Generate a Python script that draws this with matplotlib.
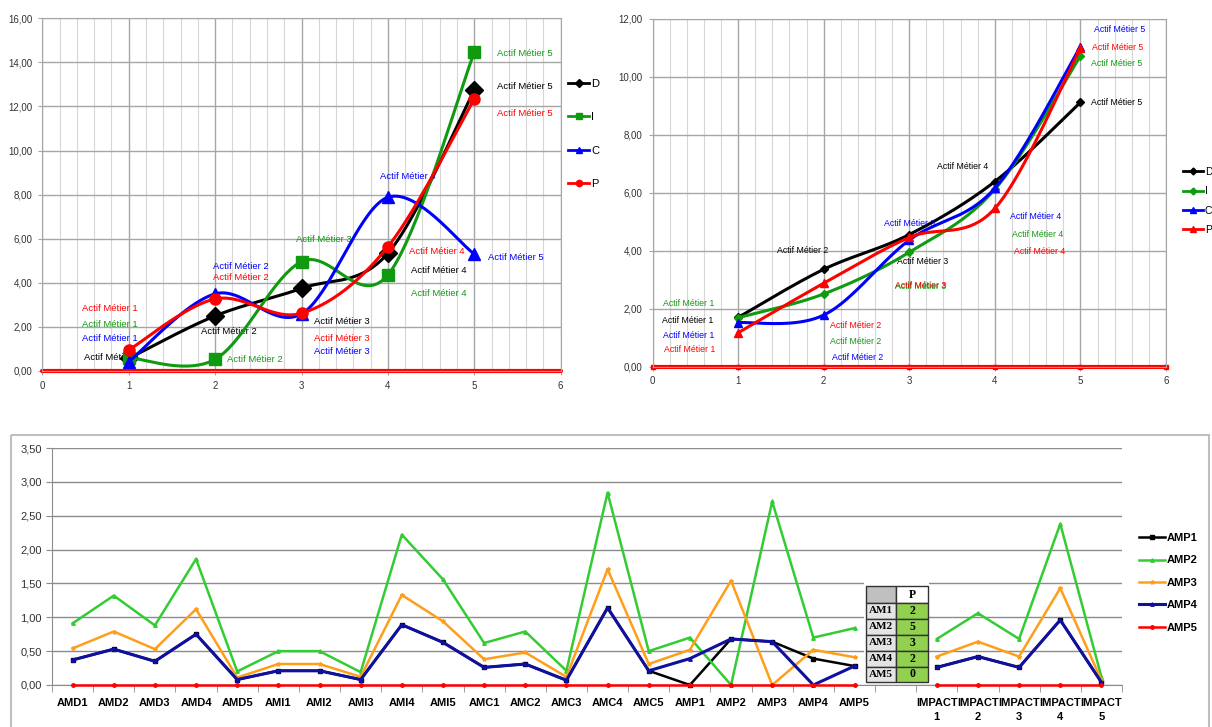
import numpy as np
import matplotlib
matplotlib.use("Agg")
import matplotlib.pyplot as plt
from matplotlib.lines import Line2D
from matplotlib.patches import Rectangle
from matplotlib.ticker import FuncFormatter
from matplotlib.transforms import Affine2D

plt.rcParams['font.family'] = ['Liberation Sans', 'DejaVu Sans']

W, H = 1212, 727

# --- data -------------------------------------------------------------------
steps = [1, 2, 3, 4, 5]
point_labels = ["Actif Métier 1", "Actif Métier 2", "Actif Métier 3",
                "Actif Métier 4", "Actif Métier 5"]

# left chart (D / I / C / P per business asset)
left_D = [0.57, 2.50, 3.75, 5.34, 12.75]
left_I = [0.60, 0.53, 4.96, 4.36, 14.46]
left_C = [0.42, 3.50, 2.59, 7.88, 5.31]
left_P = [0.95, 3.27, 2.62, 5.64, 12.34]

# right chart
right_D = [1.70, 3.36, 4.56, 6.39, 9.12]
right_I = [1.69, 2.51, 3.95, 6.12, 10.72]
right_C = [1.52, 1.78, 4.37, 6.16, 11.04]
right_P = [1.17, 2.88, 4.46, 5.46, 10.99]

# bottom chart
categories = ["AMD1", "AMD2", "AMD3", "AMD4", "AMD5",
              "AMI1", "AMI2", "AMI3", "AMI4", "AMI5",
              "AMC1", "AMC2", "AMC3", "AMC4", "AMC5",
              "AMP1", "AMP2", "AMP3", "AMP4", "AMP5",
              "IMPACT\n1", "IMPACT\n2", "IMPACT\n3", "IMPACT\n4", "IMPACT\n5"]
amp1 = [0.37, 0.53, 0.35, 0.75, 0.08, 0.21, 0.21, 0.08, 0.89, 0.63,
        0.26, 0.31, 0.07, 1.14, 0.21, 0.00, 0.68, 0.64, 0.39, 0.28,
        0.26, 0.42, 0.26, 0.96, 0.04]
amp2 = [0.91, 1.32, 0.88, 1.86, 0.20, 0.50, 0.50, 0.19, 2.22, 1.56,
        0.62, 0.79, 0.21, 2.84, 0.50, 0.70, 0.00, 2.71, 0.70, 0.84,
        0.68, 1.06, 0.68, 2.38, 0.12]
amp3 = [0.54, 0.79, 0.53, 1.12, 0.11, 0.31, 0.31, 0.12, 1.33, 0.94,
        0.38, 0.48, 0.12, 1.71, 0.31, 0.52, 1.54, 0.00, 0.52, 0.41,
        0.42, 0.64, 0.42, 1.43, 0.07]
amp4 = [0.37, 0.53, 0.35, 0.75, 0.08, 0.21, 0.21, 0.08, 0.89, 0.63,
        0.26, 0.31, 0.07, 1.14, 0.21, 0.39, 0.68, 0.64, 0.00, 0.28,
        0.26, 0.42, 0.26, 0.96, 0.04]
amp5 = [0.0] * 25

table_rows = ["AM1", "AM2", "AM3", "AM4", "AM5"]
table_P = [2, 5, 3, 2, 0]

# --- label placement (pixel offsets from each point, y up) -------------------
left_offsets = {
    "D": [(-17, 1), (14, -16), (40, -33), (51, -17), (51, 3)],
    "I": [(-19, 33), (40, 0), (22, 22), (51, -19), (51, -1)],
    "C": [(-19, 23), (26, 27), (40, -38), (20, 21), (42, -4)],
    "P": [(-19, 42), (26, 21), (40, -25), (49, -5), (51, -15)],
}
right_offsets = {
    "D": [(-50, -3), (-21, 19), (13, -27), (-32, 15), (36, 0)],
    "I": [(-49, 14), (32, -48), (11, -34), (43, -45), (36, -7)],
    "C": [(-49, -13), (34, -42), (0, 17), (41, -28), (39, 17)],
    "P": [(-48, -17), (32, -42), (11, -48), (45, -43), (37, 1)],
}

BLACK, GREEN, BLUE, RED = "#000000", "#109A10", "#0000FF", "#FF0000"


def px_rect(x0, y0, x1, y1):
    return [x0 / W, 1 - y1 / H, (x1 - x0) / W, (y1 - y0) / H]


def smooth(xs, ys, n=40):
    # Bezier spline through the points, like a spreadsheet "smoothed line"
    p = np.column_stack([xs, ys]).astype(float)
    segs = []
    for i in range(len(p) - 1):
        p0 = p[max(i - 1, 0)]
        p1, p2 = p[i], p[i + 1]
        p3 = p[min(i + 2, len(p) - 1)]
        c1 = p1 + (p2 - p0) / 6
        c2 = p2 - (p3 - p1) / 6
        t = np.linspace(0, 1, n)[:, None]
        segs.append((1 - t) ** 3 * p1 + 3 * (1 - t) ** 2 * t * c1
                    + 3 * (1 - t) * t ** 2 * c2 + t ** 3 * p2)
    c = np.vstack(segs)
    return c[:, 0], c[:, 1]


comma = FuncFormatter(lambda v, _: f"{v:.2f}".replace(".", ","))

fig = plt.figure(figsize=(W / 100, H / 100), dpi=100)
pix = Affine2D().scale(1 / W, -1 / H).translate(0, 1) + fig.transFigure


def draw_top(ax, series, ymax, offsets, label_size, lw, red_ticks):
    ax.set_xlim(0, 6)
    ax.set_ylim(0, ymax)
    ax.set_xticks(range(7))
    ax.set_xticks(np.arange(0, 6.01, 0.2), minor=True)
    ax.set_yticks(np.arange(0, ymax + 0.1, 2))
    ax.yaxis.set_major_formatter(comma)
    ax.grid(which="major", color="#A6A6A6", lw=1)
    ax.grid(which="minor", axis="x", color="#D6D6D6", lw=0.8)
    ax.set_axisbelow(True)
    ax.tick_params(which="minor", length=0)
    ax.tick_params(which="major", length=3, color="#A6A6A6",
                   labelsize=7, labelcolor="#333333", pad=4)
    for s in ax.spines.values():
        s.set_color("#A6A6A6")

    ax.plot([0, 6], [0, 0], color=RED, lw=3, solid_capstyle="round",
            clip_on=False, zorder=2)
    if red_ticks:
        ax.plot(range(7), [0] * 7, ls="none", marker="s", ms=3.5,
                color=RED, clip_on=False, zorder=2)

    for k, (name, ys, color, marker, ms) in enumerate(series):
        z = 3 + k
        sx, sy = smooth(steps, ys)
        ax.plot(sx, sy, color=color, lw=lw, zorder=z)
        ax.plot(steps, ys, ls="none", marker=marker, ms=ms, color=color,
                zorder=z + 0.2)
        for xv, yv, txt, off in zip(steps, ys, point_labels, offsets[name]):
            ax.annotate(txt, (xv, yv), xytext=off, textcoords="offset pixels",
                        ha="center", va="center", fontsize=label_size,
                        color=color, zorder=z + 0.1, annotation_clip=False)


# --- top left ---------------------------------------------------------------
ax1 = fig.add_axes(px_rect(42.3, 18.3, 560.7, 371))
draw_top(ax1, [("D", left_D, BLACK, "D", 9),
               ("I", left_I, GREEN, "s", 8),
               ("C", left_C, BLUE, "^", 9),
               ("P", left_P, RED, "o", 8)],
         16, left_offsets, 6.8, 2.2, False)

h1 = [Line2D([], [], color=BLACK, lw=2, marker="D", ms=4.5),
      Line2D([], [], color=GREEN, lw=2, marker="s", ms=4.5),
      Line2D([], [], color=BLUE, lw=2, marker="^", ms=5),
      Line2D([], [], color=RED, lw=2, marker="o", ms=4.5)]
fig.legend(h1, ["D", "I", "C", "P"], loc="upper left",
           bbox_to_anchor=(568 / W, 1 - 79 / H), frameon=False,
           fontsize=8, handlelength=1.9, handletextpad=0.2,
           labelspacing=2.1, borderpad=0, borderaxespad=0)

# --- top right --------------------------------------------------------------
ax2 = fig.add_axes(px_rect(652.5, 19, 1166, 366.7))
draw_top(ax2, [("D", right_D, BLACK, "D", 4.5),
               ("I", right_I, GREEN, "D", 4.5),
               ("C", right_C, BLUE, "^", 6),
               ("P", right_P, RED, "^", 6)],
         12, right_offsets, 6.3, 2.2, True)

h2 = [Line2D([], [], color=BLACK, lw=2, marker="D", ms=3.5),
      Line2D([], [], color=GREEN, lw=2, marker="D", ms=3.5),
      Line2D([], [], color=BLUE, lw=2, marker="^", ms=4.5),
      Line2D([], [], color=RED, lw=2, marker="^", ms=4.5)]
fig.legend(h2, ["D", "I", "C", "P"], loc="upper left",
           bbox_to_anchor=(1183 / W, 1 - 167 / H), frameon=False,
           fontsize=7.5, handlelength=1.9, handletextpad=0.2,
           labelspacing=0.9, borderpad=0, borderaxespad=0)

# --- bottom -----------------------------------------------------------------
fig.add_artist(Rectangle((11, 435), 1198, 320, transform=pix, fill=False,
                         ec="#BFBFBF", lw=1.5))

ax3 = fig.add_axes(px_rect(52, 448, 1122, 685))
xpos = np.arange(len(categories) + 1)


def with_gap(vals):
    return np.array(list(vals[:20]) + [np.nan] + list(vals[20:]), float)


bottom_series = [("AMP1", amp1, "#000000", "s", 2.2),
                 ("AMP2", amp2, "#33CC33", "^", 2.5),
                 ("AMP3", amp3, "#FF9E1B", "*", 3),
                 ("AMP4", amp4, "#10109E", "^", 2.5),
                 ("AMP5", amp5, "#FF0000", "o", 2.5)]
widths = {"AMP1": 1.8, "AMP2": 1.8, "AMP3": 1.8, "AMP4": 2.2, "AMP5": 1.8}
handles = []
for name, vals, color, marker, ms in bottom_series:
    ln, = ax3.plot(xpos, with_gap(vals), color=color, lw=widths[name],
                   marker=marker, ms=ms, clip_on=False, zorder=3)
    handles.append(ln)

ax3.set_xlim(-0.5, len(xpos) - 0.5)
ax3.set_ylim(0, 3.5)
ax3.set_yticks(np.arange(0, 3.51, 0.5))
ax3.yaxis.set_major_formatter(comma)
ax3.grid(axis="y", color="#8C8C8C", lw=1)
ax3.set_axisbelow(True)
ax3.set_xticks(xpos, categories[:20] + [""] + categories[20:])
ax3.set_xticks(np.arange(-0.5, len(xpos), 1), minor=True)
ax3.tick_params(axis="x", which="major", length=0, pad=9)
ax3.tick_params(axis="x", which="minor", length=5, color="#8C8C8C")
ax3.tick_params(axis="y", length=4, color="#8C8C8C", labelsize=8,
                labelcolor="#333333")
for lab in ax3.get_xticklabels():
    lab.set_fontsize(8)
    lab.set_fontweight("bold")
    lab.set_linespacing(1.5)
for side in ("top", "right"):
    ax3.spines[side].set_visible(False)
for side in ("left", "bottom"):
    ax3.spines[side].set_color("#8C8C8C")

fig.legend(handles, [s[0] for s in bottom_series], loc="upper left",
           bbox_to_anchor=(1139 / W, 1 - 533 / H), frameon=False,
           prop={"size": 8, "weight": "bold"}, handlelength=2.3,
           handletextpad=0.15, labelspacing=1.12, borderpad=0,
           borderaxespad=0)

# small P table sitting in the gap of the bottom chart
fig.add_artist(Rectangle((864, 578), 65, 105.5, transform=pix,
                         fc="white", ec="none"))
cx0, cx1, cx2 = 866, 896, 928
ry = [586, 603, 618.5, 634.5, 650.5, 666.5, 682]
fig.add_artist(Rectangle((cx0, ry[0]), cx1 - cx0, ry[1] - ry[0], transform=pix,
                         fc="#C0C0C0", ec="#333333", lw=1))
fig.add_artist(Rectangle((cx1, ry[0]), cx2 - cx1, ry[1] - ry[0], transform=pix,
                         fc="white", ec="#333333", lw=1))
fig.text((cx1 + cx2) / 2 / W, 1 - (ry[0] + ry[1]) / 2 / H, "P",
         ha="center", va="center", family="Liberation Serif",
         fontweight="bold", fontsize=8.5)
for i, (row, val) in enumerate(zip(table_rows, table_P)):
    y0, y1 = ry[i + 1], ry[i + 2]
    fig.add_artist(Rectangle((cx0, y0), cx1 - cx0, y1 - y0, transform=pix,
                             fc="#E4E4E4", ec="#333333", lw=1))
    fig.add_artist(Rectangle((cx1, y0), cx2 - cx1, y1 - y0, transform=pix,
                             fc="#92D050", ec="#333333", lw=1))
    yc = 1 - (y0 + y1) / 2 / H
    fig.text((cx0 + cx1) / 2 / W, yc, row, ha="center", va="center",
             family="Liberation Serif", fontweight="bold", fontsize=8)
    fig.text((cx1 + cx2) / 2 / W, yc, str(val), ha="center", va="center",
             family="Liberation Serif", fontweight="bold", fontsize=8.5)

fig.savefig("out.png", dpi=100)
